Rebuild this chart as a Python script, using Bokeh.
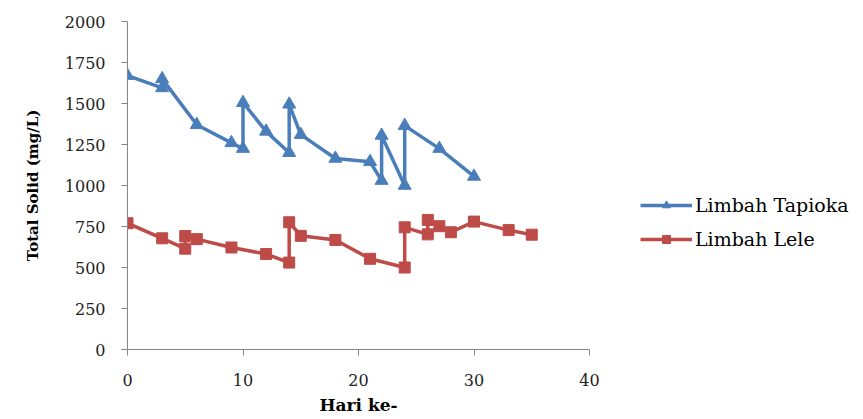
from bokeh.plotting import figure
from bokeh.models import Legend, LegendItem, SingleIntervalTicker, Range1d
from bokeh.embed import file_html
from bokeh.resources import INLINE

# Data
tapioka_day = [0, 3, 3, 6, 9, 10, 10, 12, 14, 14, 15, 18, 21, 22, 22, 24, 24, 27, 30]
tapioka_ts = [1670, 1595, 1650, 1370, 1260, 1225, 1505, 1330, 1200, 1495, 1310, 1165, 1145, 1030, 1305, 1000, 1365, 1225, 1055]

lele_day = [0, 3, 5, 5, 6, 9, 12, 14, 14, 15, 18, 21, 24, 24, 26, 26, 27, 28, 30, 33, 35]
lele_ts = [770, 678, 615, 692, 673, 622, 582, 530, 776, 693, 668, 553, 500, 745, 702, 790, 752, 715, 780, 728, 700]

series_names = ["Limbah Tapioka", "Limbah Lele"]
x_label = "Hari ke-"
y_label = "Total Solid (mg/L)"

BLUE = "#4A7EBB"
RED = "#BE4B48"
SERIF = "DejaVu Serif"

p = figure(width=863, height=419, output_backend="svg", toolbar_location=None,
           x_range=Range1d(0, 40), y_range=Range1d(0, 2000),
           frame_width=462, frame_height=328,
           min_border_left=127, min_border_top=21, min_border_bottom=70, min_border_right=274)
p.outline_line_color = None
p.xgrid.visible = False
p.ygrid.visible = False
p.background_fill_color = "white"
p.border_fill_color = "white"

l1 = p.line(tapioka_day, tapioka_ts, color=BLUE, line_width=3.5)
m1 = p.scatter(tapioka_day, tapioka_ts, marker="triangle", size=13, color=BLUE)
l2 = p.line(lele_day, lele_ts, color=RED, line_width=3.5)
m2 = p.scatter(lele_day, lele_ts, marker="square", size=11, color=RED)

p.xaxis.ticker = SingleIntervalTicker(interval=10)
p.yaxis.ticker = SingleIntervalTicker(interval=250)
for ax in (p.xaxis, p.yaxis):
    ax.axis_line_color = "#868686"
    ax.major_tick_line_color = "#868686"
    ax.major_tick_in = 0
    ax.major_tick_out = 6
    ax.minor_tick_line_color = None
    ax.major_label_text_font = SERIF
    ax.major_label_text_font_size = "16px"
    ax.major_label_text_color = "#222222"
    ax.axis_label_text_font = SERIF
    ax.axis_label_text_font_style = "bold"
    ax.axis_label_text_color = "#000000"

p.xaxis.axis_label = x_label
p.yaxis.axis_label = y_label
p.xaxis.axis_label_text_font_size = "17px"
p.yaxis.axis_label_text_font_size = "15px"
p.xaxis.major_label_standoff = 18
p.xaxis.axis_label_standoff = 6
p.yaxis.major_label_standoff = 16
p.yaxis.axis_label_standoff = 20

legend = Legend(items=[LegendItem(label=series_names[0], renderers=[l1, m1]),
                       LegendItem(label=series_names[1], renderers=[l2, m2])],
                location=(51, 99))
legend.border_line_color = None
legend.background_fill_alpha = 0
legend.padding = 0
legend.margin = 0
legend.spacing = 12
legend.glyph_width = 52
legend.glyph_height = 20
legend.label_standoff = 3
legend.label_text_font = SERIF
legend.label_text_font_size = "19px"
legend.label_text_color = "#000000"
p.add_layout(legend, "right")

open("out.html", "w").write(file_html(p, INLINE))
